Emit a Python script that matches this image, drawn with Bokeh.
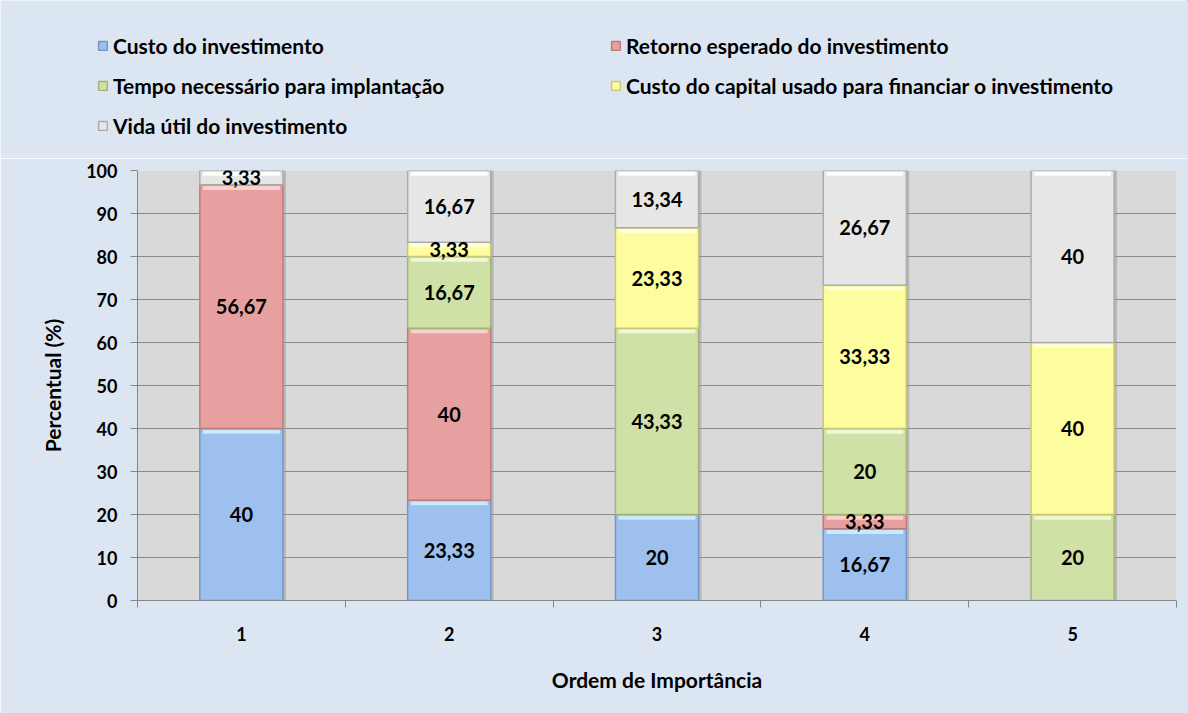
from bokeh.plotting import figure
from bokeh.models import ColumnDataSource, Legend, LegendItem, FixedTicker, Range1d
from bokeh.transform import dodge
from bokeh.core.properties import value
from bokeh.embed import file_html
from bokeh.resources import INLINE

# ---- data ----
categories = ["1", "2", "3", "4", "5"]
x_pos = [1, 2, 3, 4, 5]
series_names = [
    "Custo do investimento",
    "Retorno esperado do investimento",
    "Tempo necessário para implantação",
    "Custo do capital usado para financiar o investimento",
    "Vida útil do investimento",
]
custo_investimento = [40, 23.33, 20, 16.67, 0]
retorno_esperado = [56.67, 40, 0, 3.33, 0]
tempo_implantacao = [0, 16.67, 43.33, 20, 20]
custo_capital = [0, 3.33, 23.33, 33.33, 40]
vida_util = [3.33, 16.67, 13.34, 26.67, 40]
y_ticks = [0, 10, 20, 30, 40, 50, 60, 70, 80, 90, 100]

series_values = [custo_investimento, retorno_esperado, tempo_implantacao,
                 custo_capital, vida_util]

# ---- styles ----
fills = ["#9dc0ef", "#e6a09f", "#d0e1a7", "#fdfd9f", "#e6e6e6"]
edges = ["#7597c8", "#bd7c7b", "#a0b47a", "#c8c874", "#ababab"]
highs = ["#cdeefc", "#fcd6d5", "#f1fbd8", "#ffffdc", "#ffffff"]
FONT = "Lato"
BG = "#dce6f2"
W = 1188
TOP_H = 158

# ---- legend strip (top figure) ----
top = figure(width=W, height=TOP_H, output_backend="svg", toolbar_location=None,
             x_axis_location=None, y_axis_location=None,
             x_range=Range1d(-10, -9), y_range=Range1d(-10, -9),
             min_border_left=0, min_border_right=0, min_border_top=0,
             min_border_bottom=3)
top.background_fill_color = BG
top.border_fill_color = BG
top.outline_line_color = None
top.grid.visible = False

# ---- main chart ----
p = figure(width=W, height=713 - TOP_H, output_backend="svg", toolbar_location=None,
           x_range=Range1d(0.5, 5.5), y_range=Range1d(0, 100),
           min_border_left=137, min_border_right=12, min_border_top=12,
           min_border_bottom=113)
p.background_fill_color = "#d9d9d9"
p.border_fill_color = BG
p.outline_line_color = None
p.xgrid.grid_line_color = None
p.ygrid.grid_line_color = "#8a8a8a"
p.ygrid.grid_line_width = 1
p.ygrid.ticker = FixedTicker(ticks=y_ticks)

bar_w = 0.4
totals = [sum(v[j] for v in series_values) for j in range(len(x_pos))]
shadow_src = ColumnDataSource(dict(x=x_pos, top=totals))
p.vbar(x=dodge("x", 0.014, range=p.x_range), top="top", bottom=0, width=bar_w,
       source=shadow_src, fill_color="#9a9a9a", fill_alpha=0.55, line_color=None)

legend_items = []
bottoms = [0.0] * len(x_pos)
label_x, label_y, label_t = [], [], []
for i, vals in enumerate(series_values):
    xs, bs, ts, hb, ht = [], [], [], [], []
    for j, v in enumerate(vals):
        b = bottoms[j]
        t = b + v
        if v > 0:
            xs.append(x_pos[j]); bs.append(b); ts.append(t)
            hb.append(t - 1.2); ht.append(t - 0.3)
            label_x.append(x_pos[j]); label_y.append(b + v / 2)
            label_t.append(("%d" % v) if float(v).is_integer() else ("%.2f" % v).replace(".", ","))
        bottoms[j] = t
    src = ColumnDataSource(dict(x=xs, bottom=bs, top=ts, hb=hb, ht=ht))
    p.vbar(x="x", bottom="bottom", top="top", width=bar_w, source=src,
           fill_color=fills[i], line_color=edges[i], line_width=1.5)
    p.vbar(x="x", bottom="hb", top="ht", width=bar_w - 0.03, source=src,
           fill_color=highs[i], line_color=None, fill_alpha=0.9)
    # same series drawn in the legend strip (outside its visible range) as legend proxy
    lr = top.vbar(x="x", bottom="bottom", top="top", width=bar_w, source=src,
                  fill_color=fills[i], line_color=edges[i], line_width=1.5)
    legend_items.append(LegendItem(label=series_names[i], renderers=[lr]))

lsrc = ColumnDataSource(dict(x=label_x, y=label_y, t=label_t))
p.text(x="x", y="y", text="t", source=lsrc, text_align="center",
       text_baseline="middle", text_font=value(FONT), text_font_style="bold",
       text_font_size="20px", text_color="black")

# ---- axes ----
xa = p.xaxis[0]
xa.ticker = FixedTicker(ticks=x_pos, minor_ticks=[0.5, 1.5, 2.5, 3.5, 4.5, 5.5])
xa.major_label_overrides = {x: c for x, c in zip(x_pos, categories)}
xa.major_tick_out = 0
xa.major_tick_in = 0
xa.minor_tick_out = 7
xa.minor_tick_in = 0
xa.minor_tick_line_color = "#868686"
xa.axis_line_color = "#868686"
xa.major_label_standoff = 19
xa.axis_label = "Ordem de Importância"
xa.axis_label_standoff = 23

ya = p.yaxis[0]
ya.ticker = FixedTicker(ticks=y_ticks)
ya.major_tick_out = 7
ya.major_tick_in = 0
ya.minor_tick_line_color = None
ya.major_tick_line_color = "#868686"
ya.axis_line_color = "#868686"
ya.major_label_standoff = 13
ya.axis_label = "Percentual (%)"
ya.axis_label_standoff = 18

for ax in (xa, ya):
    ax.major_label_text_font = FONT
    ax.major_label_text_font_style = "bold"
    ax.major_label_text_font_size = "18px"
    ax.major_label_text_color = "black"
    ax.axis_label_text_font = FONT
    ax.axis_label_text_font_style = "bold"
    ax.axis_label_text_font_size = "21px"
    ax.axis_label_text_color = "black"

# row-major order for a 2-column legend
order = [0, 2, 4, 1, 3]
legend = Legend(items=[legend_items[k] for k in order], ncols=2, location=(97, 17),
                orientation="vertical",
                glyph_width=11, glyph_height=11, label_standoff=5,
                label_width=482, spacing=15, padding=0, margin=0,
                border_line_color=None, background_fill_alpha=0,
                label_text_font=FONT, label_text_font_style="bold",
                label_text_font_size="21px", label_text_color="black")
top.add_layout(legend)

open("out.html", "w").write(file_html([top, p], INLINE))
